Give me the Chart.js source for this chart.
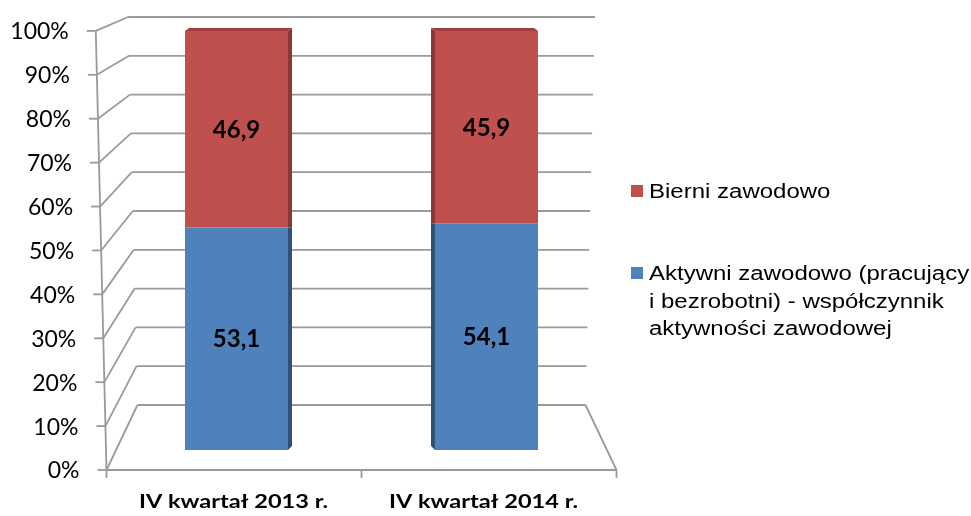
<!DOCTYPE html>
<html>
<head>
<meta charset="utf-8">
<script src="https://cdn.jsdelivr.net/npm/chart.js@4.4.1/dist/chart.umd.min.js"></script>
<style>
  html, body { margin: 0; padding: 0; background: #fff; }
  #wrap { width: 971px; height: 516px; }
</style>
</head>
<body>
<div id="wrap"><canvas id="myChart"></canvas></div>
<script>
"use strict";

// dane
const categories = ["IV kwartał 2013 r.", "IV kwartał 2014 r."];
const activeValues = [53.1, 54.1];
const inactiveValues = [46.9, 45.9];
const activeLabel = "Aktywni zawodowo (pracujący i bezrobotni) - współczynnik aktywności zawodowej";
const inactiveLabel = "Bierni zawodowo";
const tickValues = [0, 10, 20, 30, 40, 50, 60, 70, 80, 90, 100];

const gridColor = "#9a9a9a";

// rzut "3D" ramy wykresu (tylna sciana, sciana boczna, podloga)
const BACK = {sx: 0.896, sy: 0.926, dy: -45};
const FRONT = {sx: 1.02, sy: 1.048, dy: 20};

function proj(chart, u, v, plane) {
    const area = chart.chartArea;
    const cx = (area.left + area.right) / 2;
    const x0 = area.left + u * (area.right - area.left);
    const y0 = chart.scales.y.getPixelForValue(v);
    const k = 1 + 0.042 * v / 100;
    return {
        x: cx + (x0 - cx) * k * plane.sx,
        y: area.bottom + (y0 - area.bottom) * plane.sy + plane.dy
    };
}

function line(ctx, a, b) {
    ctx.beginPath();
    ctx.moveTo(a.x, a.y);
    ctx.lineTo(b.x, b.y);
    ctx.stroke();
}

const framePlugin = {
    id: "frame3d",
    beforeDatasetsDraw(chart) {
        const ctx = chart.ctx;
        ctx.save();
        ctx.strokeStyle = gridColor;
        ctx.lineWidth = 1.8;
        tickValues.forEach(v => {
            line(ctx, proj(chart, 0, v, BACK), proj(chart, 1, v, BACK));
            line(ctx, proj(chart, 0, v, FRONT), proj(chart, 0, v, BACK));
            const f = proj(chart, 0, v, FRONT);
            line(ctx, {x: f.x - 9, y: f.y}, f);
        });
        // os pionowa z przodu
        line(ctx, proj(chart, 0, 0, FRONT), proj(chart, 0, 100, FRONT));
        // podloga
        line(ctx, proj(chart, 1, 0, BACK), proj(chart, 1, 0, FRONT));
        line(ctx, proj(chart, 0, 0, FRONT), proj(chart, 1, 0, FRONT));
        [0, 0.5, 1].forEach(u => {
            const p = proj(chart, u, 0, FRONT);
            line(ctx, p, {x: p.x, y: p.y + 8});
        });

        // etykiety osi Y
        ctx.fillStyle = "#000";
        ctx.font = '23px Lato';
        ctx.textAlign = "right";
        ctx.textBaseline = "middle";
        tickValues.forEach(v => {
            const f = proj(chart, 0, v, FRONT);
            ctx.fillText(v + "%", f.x - 27, f.y + 1);
        });
        ctx.restore();
    },
    afterDatasetsDraw(chart) {
        const ctx = chart.ctx;
        const cx = (chart.chartArea.left + chart.chartArea.right) / 2;
        const sideColors = ["#2f5078", "#8a3835"];
        ctx.save();
        chart.data.datasets.forEach((ds, di) => {
            chart.getDatasetMeta(di).data.forEach((bar, i) => {
                const {x, y, base, width} = bar.getProps(["x", "y", "base", "width"], true);
                const left = x < cx;
                const edge = left ? x + width / 2 : x - width / 2;
                const d = left ? 4 : -4;
                const last = di === chart.data.datasets.length - 1;
                // boczna scianka
                ctx.fillStyle = sideColors[di];
                ctx.beginPath();
                ctx.moveTo(edge, y);
                ctx.lineTo(edge + d, y - (last ? 3 : 0));
                ctx.lineTo(edge + d, base - (di === 0 ? 4 : 0));
                ctx.lineTo(edge, base);
                ctx.closePath();
                ctx.fill();
                // gorna scianka
                if (last) {
                    ctx.fillStyle = "#9e403d";
                    ctx.beginPath();
                    ctx.moveTo(x - width / 2, y);
                    ctx.lineTo(x - width / 2 + d, y - 3);
                    ctx.lineTo(x + width / 2 + d, y - 3);
                    ctx.lineTo(x + width / 2, y);
                    ctx.closePath();
                    ctx.fill();
                }
                // wartosci
                ctx.fillStyle = "#000";
                ctx.font = 'bold 24px Lato';
                ctx.textAlign = "center";
                ctx.textBaseline = "middle";
                const val = ds.data[i].toFixed(1).replace(".", ",");
                ctx.fillText(val, x, (y + base) / 2 + 1);
            });
        });

        // etykiety kategorii
        const xScale = chart.scales.x;
        ctx.font = 'bold 19px Lato';
        ctx.textAlign = "center";
        ctx.textBaseline = "middle";
        categories.forEach((c, i) => {
            ctx.save();
            ctx.translate(xScale.getPixelForValue(i) - 3, 502);
            ctx.scale(1.24, 1);
            ctx.fillText(c, 0, 0);
            ctx.restore();
        });
        ctx.restore();
    },
    afterDraw(chart) {
        // legenda (w odwrotnej kolejnosci, jak w oryginale)
        const ctx = chart.ctx;
        const lx = chart.chartArea.right + 19.5;
        const stretch = 1.2;
        const maxW = 325;
        ctx.save();
        ctx.font = '20px "Liberation Sans"';
        ctx.textAlign = "left";
        ctx.textBaseline = "alphabetic";
        const items = chart.data.datasets.slice().reverse();
        const starts = [198, 280];
        items.forEach((ds, n) => {
            // zawijanie tekstu
            const words = ds.label.split(" ");
            const lines = [];
            let cur = "";
            words.forEach(w => {
                const t = cur ? cur + " " + w : w;
                if (ctx.measureText(t).width * stretch > maxW && cur) {
                    lines.push(cur);
                    cur = w;
                } else {
                    cur = t;
                }
            });
            lines.push(cur);
            const by = starts[n];
            ctx.fillStyle = ds.backgroundColor;
            ctx.fillRect(lx, by - 13, 12, 12);
            ctx.fillStyle = "#000";
            lines.forEach((ln, k) => {
                ctx.save();
                ctx.translate(lx + 18, by + k * 27.5);
                ctx.scale(stretch, 1);
                ctx.fillText(ln, 0, 0);
                ctx.restore();
            });
        });
        ctx.restore();
    }
};

const ctx = document.getElementById("myChart").getContext("2d");
const myChart = new Chart(ctx, {
    type: "bar",
    data: {
        labels: categories,
        datasets: [
            {
                label: activeLabel,
                data: activeValues,
                backgroundColor: "#4f81bd",
                barPercentage: 0.412,
                categoryPercentage: 1.0
            },
            {
                label: inactiveLabel,
                data: inactiveValues,
                backgroundColor: "#c0504d",
                barPercentage: 0.412,
                categoryPercentage: 1.0
            }
        ]
    },
    options: {
        responsive: true,
        maintainAspectRatio: false,
        animation: false,
        layout: {
            padding: {left: 111.5, right: 359.5, top: 31, bottom: 66}
        },
        scales: {
            x: {stacked: true, display: false},
            y: {stacked: true, display: false, min: 0, max: 100}
        },
        plugins: {
            legend: {display: false},
            tooltip: {enabled: false}
        }
    },
    plugins: [framePlugin]
});
</script>
</body>
</html>
